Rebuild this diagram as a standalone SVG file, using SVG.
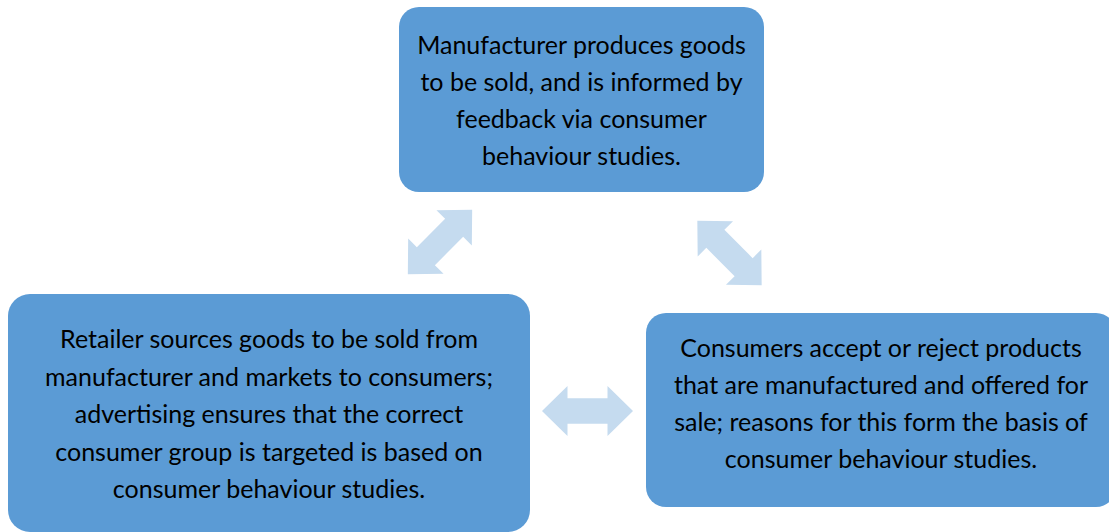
<svg xmlns="http://www.w3.org/2000/svg" width="1109" height="532" viewBox="0 0 1109 532">
  <defs>
    <!-- double-headed block arrow, centred on the origin, pointing along x -->
    <path id="dblArrow" d="M-45.5,0 L-20,-25 L-20,-12.75 L20,-12.75 L20,-25 L45.5,0 L20,25 L20,12.75 L-20,12.75 L-20,25 Z"/>
  </defs>
  <style>
    .box { fill: #5B9BD5; }
    .arrow { fill: #C5DBEF; }
    .label { font-family: Lato, "Open Sans", sans-serif; font-size: 25px; fill: #000000; text-anchor: middle; }
  </style>
  <rect width="1109" height="532" fill="#FFFFFF"/>

  <g id="connectors">
    <use href="#dblArrow" class="arrow" transform="translate(440,242) rotate(-45)"/>
    <use href="#dblArrow" class="arrow" transform="translate(729.5,253) rotate(45)"/>
    <use href="#dblArrow" class="arrow" transform="translate(587.5,411)"/>
  </g>

  <g id="manufacturer">
    <rect class="box" x="399" y="7" width="365" height="185" rx="20"/>
    <text class="label" x="581.5" y="54">Manufacturer produces goods</text>
    <text class="label" x="581.5" y="91">to be sold, and is informed by</text>
    <text class="label" x="581.5" y="128">feedback via consumer</text>
    <text class="label" x="581.5" y="165">behaviour studies.</text>
  </g>

  <g id="retailer">
    <rect class="box" x="8" y="294" width="522" height="238" rx="22"/>
    <text class="label" x="269" y="348">Retailer sources goods to be sold from</text>
    <text class="label" x="269" y="385.5">manufacturer and markets to consumers;</text>
    <text class="label" x="269" y="423">advertising ensures that the correct</text>
    <text class="label" x="269" y="460.5">consumer group is targeted is based on</text>
    <text class="label" x="269" y="498">consumer behaviour studies.</text>
  </g>

  <g id="consumers">
    <rect class="box" x="646" y="313" width="470" height="194" rx="20"/>
    <text class="label" x="881" y="357">Consumers accept or reject products</text>
    <text class="label" x="881" y="394">that are manufactured and offered for</text>
    <text class="label" x="881" y="431">sale; reasons for this form the basis of</text>
    <text class="label" x="881" y="468">consumer behaviour studies.</text>
  </g>
</svg>
